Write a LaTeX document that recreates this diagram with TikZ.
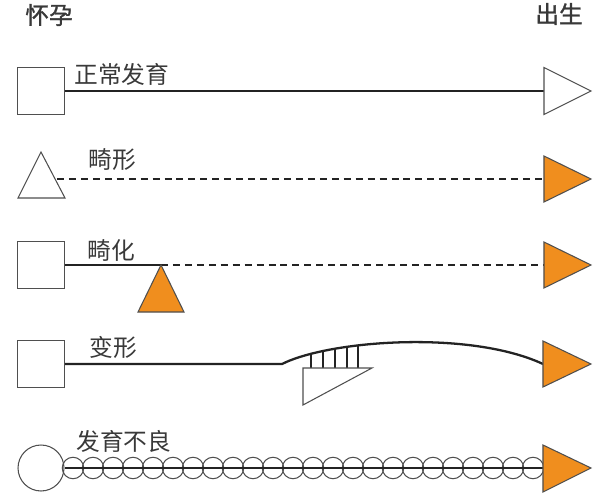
\documentclass[tikz,border=0pt]{standalone}
\usepackage{fontspec}
\setmainfont{Noto Sans CJK SC}
\newfontfamily\headfont[FakeBold=1.2]{Noto Sans CJK SC}
\usepackage{tikz}
\usepackage{xcolor}

\definecolor{defect}{RGB}{240,142,30}
\definecolor{ink}{RGB}{35,35,35}

\begin{document}
\begin{tikzpicture}[x=0.02cm, y=-0.02cm,
    box/.style={draw=ink!80, line width=0.6pt, fill=white, minimum size=0.94cm, inner sep=0pt},
    lbl/.style={anchor=west, inner sep=0pt, text=ink!90, font=\fontsize{13.5pt}{16pt}\selectfont},
    head/.style={lbl, font=\fontsize{13.5pt}{16pt}\selectfont\headfont},
    track/.style={draw=ink, line width=1.3pt},
    broken/.style={track, dash pattern=on 4pt off 2.8pt},
    tip/.style={draw=ink!80, line width=0.6pt, line join=miter}]
    \useasboundingbox (0,0) rectangle (600,498);

    \node[head] (conceive) at (25,15) {怀孕};
    \node[head] (birth) at (535,14) {出生};

    % normal
    \node[box] (s1) at (41,91) {};
    \coordinate (e1) at (544,91);
    \node[lbl] (t1) at (74,74) {正常发育};
    \draw[track] (s1.east) -- (e1);
    \draw[tip, fill=white] (e1) -- ++(0,-23.5) -- ++(47,23.5) -- ++(-47,23.5) -- cycle;

    % malformation
    \coordinate (s2) at (57,179);
    \draw[tip, fill=white] (41,152) -- (65,198) -- (18,198) -- cycle;
    \coordinate (e2) at (544,179);
    \node[lbl] (t2) at (88,160) {畸形};
    \draw[broken] (s2) -- (e2);
    \draw[tip, fill=defect] (e2) -- ++(0,-23) -- ++(47,23) -- ++(-47,23) -- cycle;

    % disruption
    \node[box] (s3) at (41,265) {};
    \coordinate (k3) at (161,265);
    \coordinate (e3) at (544,265);
    \node[lbl] (t3) at (87,250) {畸化};
    \draw[track] (s3.east) -- (k3);
    \draw[broken] (k3) -- (e3);
    \draw[tip, fill=defect] (k3) -- (184,312) -- (138,312) -- cycle;
    \draw[tip, fill=defect] (e3) -- ++(0,-23) -- ++(47,23) -- ++(-47,23) -- cycle;

    % deformation
    \node[box] (s4) at (41,364) {};
    \coordinate (k4) at (282,364);
    \coordinate (e4) at (543,364);
    \node[lbl] (t4) at (89,347) {变形};
    \draw[track] (s4.east) -- (k4) .. controls (330,340) and (470,330) .. (e4);
    \foreach \hx/\hy in {311/353, 323/350, 335/347.5, 347/346, 358/344.5}
        \draw[ink, line width=1pt] (\hx,\hy) -- (\hx,368);
    \draw[tip, fill=white] (303,368) -- (372,368) -- (303,405) -- cycle;
    \draw[tip, fill=defect] (e4) -- ++(0,-23) -- ++(48,23) -- ++(-48,23) -- cycle;

    % dysplasia
    \node[box, circle, minimum size=0.92cm] (s5) at (41,468) {};
    \coordinate (e5) at (543,468);
    \node[lbl] (t5) at (76,441) {发育不良};
    \foreach \i in {0,...,23}
        \draw[ink!80, line width=0.6pt] (73+20*\i,468) circle (0.215cm);
    \draw[track] (s5.east) -- (e5);
    \draw[tip, fill=defect] (e5) -- ++(0,-23) -- ++(48,23) -- ++(-48,24) -- cycle;
\end{tikzpicture}
\end{document}
